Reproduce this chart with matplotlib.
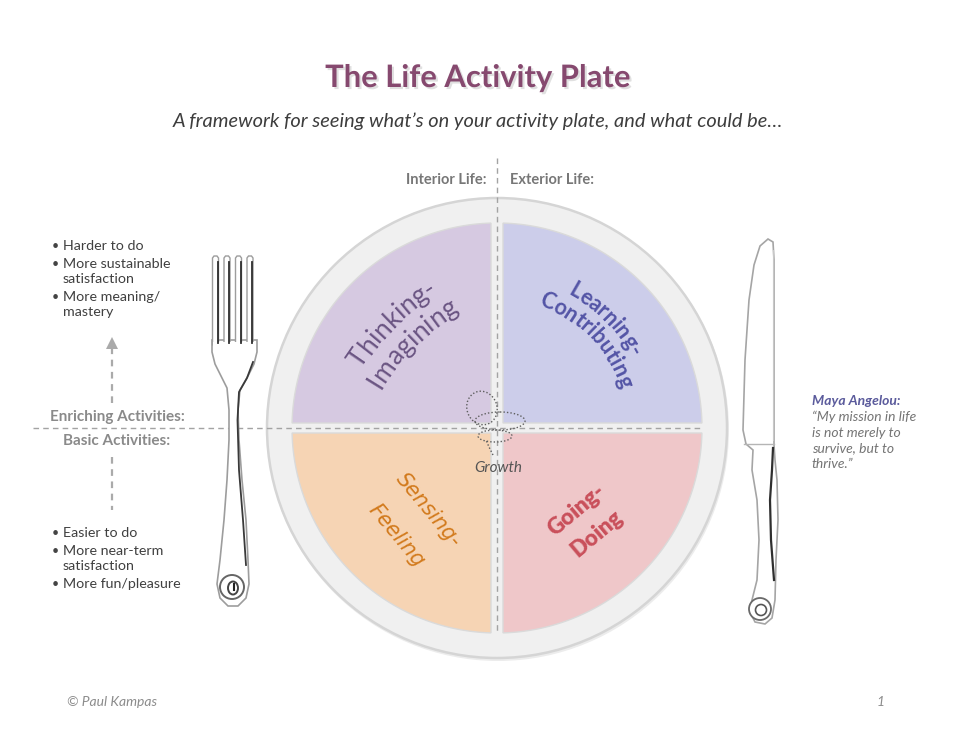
import numpy as np
import matplotlib
matplotlib.use("Agg")
import matplotlib.pyplot as plt
from matplotlib.patches import Polygon, Circle, Ellipse
from matplotlib.font_manager import FontProperties
from matplotlib.textpath import TextToPath
import matplotlib.patheffects as pe

# ---------------- content ----------------
title = "The Life Activity Plate"
subtitle = "A framework for seeing what\u2019s on your activity plate, and what could be\u2026"
axis_left_label = "Interior Life:"
axis_right_label = "Exterior Life:"
upper_label = "Enriching Activities:"
lower_label = "Basic Activities:"
upper_bullets = [["Harder to do"], ["More sustainable", "satisfaction"], ["More meaning/", "mastery"]]
lower_bullets = [["Easier to do"], ["More near-term", "satisfaction"], ["More fun/pleasure"]]
quadrant_names = ["Thinking-Imagining", "Learning-Contributing", "Sensing-Feeling", "Going-Doing"]
quadrant_lines = [["Thinking-", "Imagining"], ["Learning-", "Contributing"],
                  ["Sensing-", "Feeling"], ["Going-", "Doing"]]
quadrant_colors = ["#d6c9e1", "#cccdea", "#f6d4b4", "#efc7c9"]
quadrant_text_colors = ["#6b5583", "#5455a6", "#d27a1c", "#c9505b"]
center_label = "Growth"
quote_author = "Maya Angelou:"
quote_lines = ["\u201cMy mission in life", "is not merely to", "survive, but to", "thrive.\u201d"]
footer_left = "\u00a9 Paul Kampas"
footer_right = "1"

W, H = 960, 742
fig = plt.figure(figsize=(W / 100, H / 100), dpi=100)
ax = fig.add_axes([0, 0, 1, 1])
ax.set_xlim(0, W)
ax.set_ylim(H, 0)
ax.set_aspect("equal")
ax.axis("off")
fig.patch.set_facecolor("white")

BODY = "Lato"
ttp = TextToPath()

def char_w(ch, fp):
    w, h, d = ttp.get_text_width_height_descent(ch, fp, ismath=False)
    return w * 100 / 72

def arc_text(s, cx, cy, r, tmid, fp, color, z=6):
    widths = [char_w(c, fp) for c in s]
    total = sum(widths)
    t = np.radians(tmid) + total / r / 2
    for c, w in zip(s, widths):
        tc = t - w / 2 / r
        x = cx + r * np.cos(tc)
        y = cy - r * np.sin(tc)
        ax.text(x, y, c, fontproperties=fp, color=color, rotation=np.degrees(tc) - 90,
                rotation_mode="anchor", ha="center", va="baseline", zorder=z)
        t -= w / r

# ---------------- plate ----------------
cx, cy = 497, 428
R_out, R_in = 230, 205
ax.add_patch(Circle((cx + 1, cy + 2), R_out + 1, facecolor="#ececec", edgecolor="none", zorder=1))
ax.add_patch(Circle((cx, cy), R_out, facecolor="#f0f0f0", edgecolor="#d5d5d5", lw=1.8, zorder=2))

gx, gy = 6, 5
def quad_poly(sx, sy):
    t0 = np.arcsin(gy / R_in)
    t1 = np.arccos(gx / R_in)
    ts = np.linspace(t0, t1, 200)
    pts = [(gx, gy)] + [(R_in * np.cos(t), R_in * np.sin(t)) for t in ts]
    return [(cx + sx * x, cy - sy * y) for x, y in pts]

signs = [(-1, 1), (1, 1), (-1, -1), (1, -1)]
for (sx, sy), col in zip(signs, quadrant_colors):
    ax.add_patch(Polygon(quad_poly(sx, sy), closed=True, facecolor=col,
                         edgecolor="#dadada", lw=1.0, zorder=3))

# dashed axes
ax.plot([cx, cx], [158, 634], ls=(0, (4, 3)), color="#a3a3a3", lw=1.0, zorder=7)
ax.plot([33, 702], [cy, cy], ls=(0, (4, 3)), color="#a3a3a3", lw=1.0, zorder=7)

# ---------------- quadrant labels ----------------
fp_think = FontProperties(family=["Lato", "DejaVu Sans"], weight="normal", size=19)
C2 = (575, 506)
arc_text(quadrant_lines[0][0], C2[0], C2[1], 254, 135, fp_think, quadrant_text_colors[0])
arc_text(quadrant_lines[0][1], C2[0], C2[1], 226, 135, fp_think, quadrant_text_colors[0])

fp_learn = FontProperties(family=["Lato", "DejaVu Sans"], weight="bold", size=15.5)
arc_text(quadrant_lines[1][0], cx, cy, 151, 45, fp_learn, quadrant_text_colors[1])
arc_text(quadrant_lines[1][1], cx, cy, 129, 44.5, fp_learn, quadrant_text_colors[1])

fp_sense = FontProperties(family=["DejaVu Sans"], style="oblique", size=15)
ax.text(428, 510, quadrant_lines[2][0], fontproperties=fp_sense, color=quadrant_text_colors[2],
        rotation=-50, rotation_mode="anchor", ha="center", va="center", zorder=6)
ax.text(396, 536, quadrant_lines[2][1], fontproperties=fp_sense, color=quadrant_text_colors[2],
        rotation=-50, rotation_mode="anchor", ha="center", va="center", zorder=6)

fp_go = FontProperties(family=["Lato", "DejaVu Sans"], weight="heavy", size=16)
ax.text(577, 510, quadrant_lines[3][0], fontproperties=fp_go, color=quadrant_text_colors[3],
        rotation=40, rotation_mode="anchor", ha="center", va="center", zorder=6)
ax.text(597, 534, quadrant_lines[3][1], fontproperties=fp_go, color=quadrant_text_colors[3],
        rotation=40, rotation_mode="anchor", ha="center", va="center", zorder=6)

# ---------------- growth spiral ----------------
sp = dict(fill=False, edgecolor="#5e5e5e", ls=(0, (1, 1.5)), lw=1.0, zorder=8)
ax.add_patch(Ellipse((495, 436), 34, 12, **sp))
ax.add_patch(Ellipse((500, 421), 50, 18, **sp))
ax.add_patch(Ellipse((482, 408), 30, 34, angle=-20, **sp))
ax.plot([493, 489, 486], [455, 447, 440], ls=(0, (1, 1.5)), color="#5e5e5e", lw=1.0, zorder=8)
ax.text(498, 468, center_label, fontsize=11, style="italic", family=BODY, color="#555555",
        ha="center", va="center", zorder=8)

# ---------------- top labels ----------------
ax.text(478, 78, title, fontsize=22.3, weight="bold", family=BODY, color="#86496f",
        ha="center", va="center", zorder=9,
        path_effects=[pe.withSimplePatchShadow(offset=(1.5, -1.5), shadow_rgbFace="#999999", alpha=0.3)])
ax.text(478, 121, subtitle, fontsize=14.4, style="italic", family=BODY, color="#3d3d3d",
        ha="center", va="center", zorder=9)
ax.text(486, 180, axis_left_label, fontsize=10.5, weight="bold", family=BODY, color="#777777",
        ha="right", va="center", zorder=9)
ax.text(510, 180, axis_right_label, fontsize=10.5, weight="bold", family=BODY, color="#777777",
        ha="left", va="center", zorder=9)

# ---------------- left side ----------------
def bullets(items, y0):
    y = y0
    for item in items:
        ax.text(52, y, "\u2022", fontsize=9, family=BODY, color="#444444", ha="left", va="center")
        for j, line in enumerate(item):
            ax.text(63, y, line, fontsize=10.3, family=BODY, color="#404040", ha="left", va="center")
            y += 15 if j < len(item) - 1 else 18
    return y

bullets(upper_bullets, 246)
bullets(lower_bullets, 533)
ax.text(117, 417, upper_label, fontsize=11, weight="bold", family=BODY, color="#8a8a8a",
        ha="center", va="center", zorder=9)
ax.text(117, 441, lower_label, fontsize=11, weight="bold", family=BODY, color="#8a8a8a",
        ha="center", va="center", zorder=9)
ax.plot([112, 112], [403, 349], ls=(0, (3, 2.5)), color="#aaaaaa", lw=1.6)
ax.add_patch(Polygon([(106, 349), (118, 349), (112, 337)], closed=True, facecolor="#aaaaaa",
                     edgecolor="none"))
ax.plot([112, 112], [457, 510], ls=(0, (3, 2.5)), color="#aaaaaa", lw=1.6)

# ---------------- right quote ----------------
ax.text(812, 401, quote_author, fontsize=10, weight="bold", style="italic", family=BODY,
        color="#5b5b9c", ha="left", va="center")
for i, line in enumerate(quote_lines):
    ax.text(812, 417 + 15.7 * i, line, fontsize=10, style="italic", family=BODY,
            color="#747474", ha="left", va="center")

# ---------------- footer ----------------
ax.text(67, 702, footer_left, fontsize=10, style="italic", family=BODY, color="#8c8c8c",
        ha="left", va="center")
ax.text(881, 702, footer_right, fontsize=10, style="italic", family=BODY, color="#8c8c8c",
        ha="center", va="center")

# ---------------- fork ----------------
fork_edge = "#9d9d9d"
fork_body = [(212, 340), (212, 352), (215, 364), (221, 376), (227, 388), (229, 410), (229, 440),
             (227, 480), (224, 520), (220, 560), (217, 584), (220, 598), (228, 606), (238, 606),
             (246, 598), (249, 584), (248, 560), (246, 520), (242, 480), (239, 440), (238, 410),
             (240, 390), (248, 376), (254, 364), (257, 352), (257, 340)]
ax.add_patch(Polygon(fork_body, closed=True, facecolor="white", edgecolor=fork_edge, lw=1.2, zorder=10))
for x0 in [212.5, 224, 235.5, 247]:
    tine = [(x0, 345), (x0, 258), (x0 + 1.5, 256), (x0 + 4.5, 256), (x0 + 6, 258), (x0 + 6, 345)]
    ax.add_patch(Polygon(tine, closed=True, facecolor="white", edgecolor=fork_edge, lw=1.0, zorder=10))
    ax.plot([x0 + 5.2, x0 + 5.2], [262, 343], color="#2e2e2e", lw=1.3, zorder=11)
ax.add_patch(Polygon([(212.6, 342), (256.4, 342), (256.4, 350), (212.6, 350)], closed=True,
                     facecolor="white", edgecolor="none", zorder=10.5))
ax.plot([253, 247, 239, 237.5, 239, 243, 246], [362, 378, 392, 420, 470, 520, 565],
        color="#3a3a3a", lw=1.3, zorder=11)
ax.add_patch(Circle((232, 587), 12, facecolor="white", edgecolor="#666666", lw=1.4, zorder=12))
ax.add_patch(Ellipse((233, 588), 10, 13, fill=False, edgecolor="#444444", lw=1.4, zorder=12))
ax.plot([234, 234], [584, 590], color="#222222", lw=1.5, zorder=12)

# ---------------- knife ----------------
knife = [(768, 239), (773, 242), (774, 260), (774, 445), (775, 460), (777, 480), (778, 520),
         (776, 560), (775, 600), (772, 618), (765, 624), (755, 622), (750, 612), (752, 600),
         (757, 580), (759, 540), (757, 500), (752, 470), (753, 450), (746, 444), (743, 430),
         (745, 360), (749, 300), (754, 265), (760, 246)]
ax.add_patch(Polygon(knife, closed=True, facecolor="white", edgecolor="#a5a5a5", lw=1.2, zorder=10))
ax.plot([744, 774], [444, 444], color="#b5b5b5", lw=1.0, zorder=11)
ax.plot([773, 772, 770, 771, 774], [448, 470, 500, 540, 580], color="#2f2f2f", lw=1.6, zorder=11)
ax.plot([772.5, 772.5], [250, 440], color="#c8c8c8", lw=0.8, zorder=11)
ax.add_patch(Circle((760, 609), 11, facecolor="white", edgecolor="#6a6a6a", lw=1.3, zorder=12))
ax.add_patch(Circle((761, 610), 5.5, fill=False, edgecolor="#555555", lw=1.2, zorder=12))

fig.savefig("out.png", dpi=100, facecolor="white")
